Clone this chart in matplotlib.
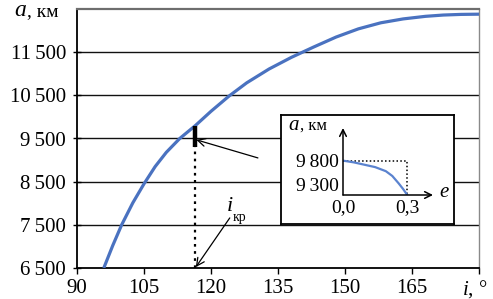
import matplotlib
matplotlib.use("Agg")
import matplotlib.pyplot as plt

plt.rcParams['font.family'] = ['Liberation Serif', 'DejaVu Serif']
plt.rcParams['mathtext.fontset'] = 'custom'
plt.rcParams['mathtext.rm'] = 'Liberation Serif'
plt.rcParams['mathtext.it'] = 'Liberation Serif:italic'

# main curve: semi-major axis a (km) vs inclination i (deg)
incl = [96, 98, 100, 102.5, 105, 107.5, 110, 113, 116.5, 120, 124, 128, 133,
        138, 143, 148, 153, 158, 163, 168, 172, 176, 180]
semi_axis = [6500, 7020, 7500, 8010, 8450, 8850, 9180, 9500, 9800, 10130, 10480,
             10790, 11110, 11380, 11620, 11850, 12040, 12180, 12270, 12330,
             12360, 12375, 12380]

# inset: a vs eccentricity e
ecc = [0.0, 0.05, 0.1, 0.15, 0.2, 0.23, 0.26, 0.28, 0.3]
semi_axis_e = [9805, 9780, 9745, 9710, 9650, 9580, 9470, 9390, 9300]

i_cr = 116.5
a_cr_top = 9800
a_cr_bot = 9300

yticks = [6500, 7500, 8500, 9500, 10500, 11500]
xticks = [90, 105, 120, 135, 150, 165, 180]

def fmt(v):
    s = "%d" % v
    return s[:-3] + "\u2009" + s[-3:]

W, H = 493, 299
fig = plt.figure(figsize=(W / 100, H / 100), dpi=100)
ax = fig.add_axes([77 / W, 1 - 268 / H, (479 - 77) / W, (268 - 9) / H])

ax.plot(incl, semi_axis, color="#4a72c0", lw=2.3, solid_capstyle="butt", zorder=3)
ax.set_xlim(90, 180)
ax.set_ylim(6500, 12500)

for y in yticks[1:]:
    ax.axhline(y, color="#111111", lw=1.0, zorder=1)

ax.set_yticks(yticks)
ax.set_yticklabels([fmt(v) for v in yticks], fontsize=15)
ax.set_xticks(xticks)
ax.set_xticklabels([str(v) for v in xticks[:-1]] + [""], fontsize=15)
ax.tick_params(axis="y", direction="inout", length=6, width=1, pad=5)
ax.tick_params(axis="x", direction="out", length=4, width=1, pad=4)

for side in ["left", "bottom"]:
    ax.spines[side].set_color("black")
    ax.spines[side].set_linewidth(1.3)
ax.spines["top"].set_color("#6e6e6e")
ax.spines["top"].set_linewidth(1.6)
ax.spines["right"].set_color("#8a8a8a")
ax.spines["right"].set_linewidth(1.0)

# critical inclination marker
ax.plot([i_cr, i_cr], [a_cr_bot, a_cr_top], color="black", lw=3.2, zorder=4,
        solid_capstyle="butt")
ax.plot([i_cr, i_cr], [6500, a_cr_bot], color="black", lw=1.6, ls=(0, (1.2, 2)),
        zorder=4)

ax.annotate("", xy=(116.7, 9470), xytext=(130.5, 9050),
            arrowprops=dict(arrowstyle="->", color="black", lw=0.9,
                            shrinkA=0, shrinkB=0, mutation_scale=14))
ax.annotate("", xy=(116.6, 6520), xytext=(124.2, 7660),
            arrowprops=dict(arrowstyle="->", color="black", lw=0.9,
                            shrinkA=0, shrinkB=0, mutation_scale=14))
ax.text(124.1, 7700, "$i$", fontsize=16, ha="center", va="bottom")
ax.text(124.9, 7680, "кр", fontsize=10, ha="left", va="center")

# axis names
fig.text(27 / W, 1 - 16 / H, "$a$", fontsize=17, ha="right", va="baseline")
fig.text(27 / W, 1 - 16 / H, ", км", fontsize=14, ha="left", va="baseline")
fig.text(475 / W, 1 - 295 / H, "$i$, °", fontsize=15, ha="center", va="baseline")

# inset frame
box = fig.add_axes([281 / W, 1 - 224 / H, (454 - 281) / W, (224 - 115) / H])
box.set_xticks([])
box.set_yticks([])
box.set_facecolor("white")
for sp in box.spines.values():
    sp.set_color("black")
    sp.set_linewidth(1.3)

ins = fig.add_axes([343 / W, 1 - 195 / H, 90 / W, 67 / H])
ins.patch.set_alpha(0)
ins.set_xlim(0, 0.42)
ins.set_ylim(9300, 10285)
for sp in ins.spines.values():
    sp.set_visible(False)
ins.plot(ecc, semi_axis_e, color="#5b83cf", lw=1.6, zorder=3)
ins.plot([0, 0.3, 0.3], [9800, 9800, 9300], color="black", lw=1.1,
         ls=(0, (1, 1.5)), zorder=2)
ins.annotate("", xy=(0.42, 9300), xytext=(0, 9300),
             arrowprops=dict(arrowstyle="->", color="black", lw=1.1,
                             shrinkA=0, shrinkB=0, mutation_scale=12))
ins.annotate("", xy=(0, 10285), xytext=(0, 9300),
             arrowprops=dict(arrowstyle="->", color="black", lw=1.1,
                             shrinkA=0, shrinkB=0, mutation_scale=12))
ins.set_xticks([0.0, 0.3])
ins.set_xticklabels(["0,0", "0,3"], fontsize=14)
ins.set_yticks([9300, 9800])
ins.set_yticklabels([fmt(9300), fmt(9800)], fontsize=14)
ins.tick_params(length=0, pad=3)
ins.get_yticklabels()[0].set_va("bottom")
ins.text(0.45, 9330, "$e$", fontsize=15, ha="left", va="center")

fig.text(300 / W, 1 - 130 / H, "$a$", fontsize=15, ha="right", va="baseline")
fig.text(300 / W, 1 - 130 / H, ", км", fontsize=12, ha="left", va="baseline")

fig.savefig("out.png", dpi=100)
